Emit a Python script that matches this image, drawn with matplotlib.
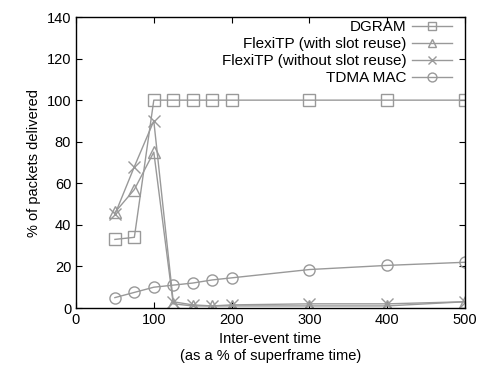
import matplotlib
matplotlib.use("Agg")
import matplotlib.pyplot as plt

plt.rcParams['font.family'] = ['Liberation Sans', 'DejaVu Sans']

x_vals = [50, 75, 100, 125, 150, 175, 200, 300, 400, 500]
dgram = [33, 34, 100, 100, 100, 100, 100, 100, 100, 100]
flexi_reuse = [46, 57, 75, 2, 1, 1, 1, 1, 1, 3]
flexi_noreuse = [45, 68, 90, 3, 1.5, 1, 1.5, 2, 2, 3]
tdma = [5, 7.5, 10, 11, 12, 13.5, 14.5, 18.5, 20.5, 22]

x_ticks = [0, 100, 200, 300, 400, 500]
y_ticks = [0, 20, 40, 60, 80, 100, 120, 140]

fig = plt.figure(figsize=(4.8, 3.7), dpi=100)
ax = fig.add_axes([76 / 480, 1 - 308 / 370, (465 - 76) / 480, (308 - 17) / 370])

gray = '#999999'
style = dict(color=gray, lw=1, markerfacecolor='none', markeredgecolor=gray,
             markersize=8, markeredgewidth=1)
ax.plot(x_vals, dgram, marker='s', label='DGRAM', **style)
ax.plot(x_vals, flexi_reuse, marker='^', label='FlexiTP (with slot reuse)', **style)
ax.plot(x_vals, flexi_noreuse, marker='x', label='FlexiTP (without slot reuse)', **style)
ax.plot(x_vals, tdma, marker='o', label='TDMA MAC', **style)

ax.set_xlim(0, 500)
ax.set_ylim(0, 140)
ax.set_xticks(x_ticks)
ax.set_yticks(y_ticks)
ax.tick_params(direction='in', top=True, right=True, length=4, labelsize=10.5)
for s in ax.spines.values():
    s.set_linewidth(1)

ax.set_xlabel('Inter-event time\n(as a % of superframe time)', fontsize=10.5)
ax.set_ylabel('% of packets delivered', fontsize=10.5)

leg = ax.legend(loc='upper right', bbox_to_anchor=(0.975, 1.0), frameon=False,
                markerfirst=False, fontsize=11, handlelength=2.6,
                labelspacing=0.2, borderaxespad=0.0, borderpad=0.2,
                handletextpad=0.4, markerscale=0.8)
for t in leg.get_texts():
    t.set_ha('right')

fig.savefig('out.png', dpi=100)
